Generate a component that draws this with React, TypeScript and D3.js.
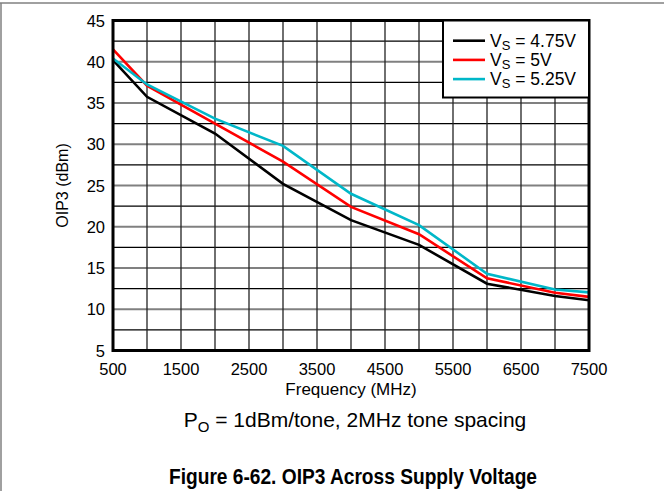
import React from "react";
import * as d3 from "d3";

const freqs = [500, 1000, 2000, 3000, 4000, 5000, 6000, 7000, 7500];
const vs475 = [40.2, 35.75, 31.3, 25.2, 20.8, 17.8, 13.1, 11.6, 11.1];
const vs500 = [41.5, 37.1, 32.5, 27.9, 22.4, 19.1, 13.75, 12.0, 11.5];
const vs525 = [40.4, 37.25, 33.1, 29.8, 24.0, 20.2, 14.3, 12.4, 12.05];
const xTicks = [500, 1500, 2500, 3500, 4500, 5500, 6500, 7500];
const yTicks = [5, 10, 15, 20, 25, 30, 35, 40, 45];
const seriesNames = ["4.75V", "5V", "5.25V"];
const seriesColors = ["#000000", "#ff0000", "#00b7c8"];

export default function App() {
  const W = 664, H = 491;
  const L = 113, R = 589, T = 20.5, B = 350.5;
  const x = d3.scaleLinear().domain([500, 7500]).range([L, R]);
  const y = d3.scaleLinear().domain([5, 45]).range([B, T]);
  const series = [vs475, vs500, vs525];
  const line = d3.line<number>().x((_, i) => x(freqs[i])).y((d) => y(d));
  const vGrid = d3.range(500, 7501, 500);
  const hGrid = d3.range(5, 45.1, 2.5);
  const font = "Liberation Sans, Arial, sans-serif";
  const legX = 443, legY = 20.5, legW = 146, legH = 77;
  return (
    <svg width={W} height={H} style={{ position: "absolute", left: 0, top: 0 }} fontFamily={font}>
      <rect x={0} y={0} width={W} height={H} fill="#fff" />
      <line x1={0} x2={W} y1={3} y2={3} stroke="#808080" strokeWidth={1.5} />
      <line x1={1} x2={1} y1={3} y2={H} stroke="#808080" strokeWidth={1.5} />
      {hGrid.map((v) => {
        const major = v % 5 === 0;
        return (
          <line key={"h" + v} x1={L} x2={R} y1={y(v)} y2={y(v)}
            stroke={major ? "#808080" : "#000"} strokeWidth={major ? 2 : 1.2} />
        );
      })}
      {vGrid.map((v) => (
        <line key={"v" + v} x1={x(v)} x2={x(v)} y1={T} y2={B} stroke="#222" strokeWidth={1.3} />
      ))}
      {series.map((s, i) => (
        <path key={i} d={line(s) || ""} fill="none" stroke={seriesColors[i]} strokeWidth={2.6} />
      ))}
      <rect x={L} y={T} width={R - L} height={B - T} fill="none" stroke="#000" strokeWidth={3} />
      <rect x={legX} y={legY} width={legW} height={legH} fill="#fff" stroke="#000" strokeWidth={2} />
      {seriesNames.map((n, i) => {
        const ly = 40.7 + i * 19.2;
        return (
          <g key={n}>
            <line x1={453} x2={485} y1={ly} y2={ly} stroke={seriesColors[i]} strokeWidth={2.6} />
            <text x={490} y={ly + 6} fontSize={17.5} fill="#000">
              V<tspan fontSize={13} dy={3}>S</tspan><tspan dy={-3}>{" = " + n}</tspan>
            </text>
          </g>
        );
      })}
      {yTicks.map((v) => (
        <text key={"yt" + v} x={105} y={y(v) + 6} fontSize={16.5} textAnchor="end" fill="#000">{v}</text>
      ))}
      {xTicks.map((v) => (
        <text key={"xt" + v} x={x(v)} y={375} fontSize={16.5} textAnchor="middle" fill="#000">{v}</text>
      ))}
      <text x={351} y={395} fontSize={17} textAnchor="middle" fill="#000">Frequency (MHz)</text>
      <text transform={`translate(68,${(T + B) / 2}) rotate(-90)`} fontSize={16} textAnchor="middle" fill="#000">OIP3 (dBm)</text>
      <text x={355} y={427} fontSize={21} textAnchor="middle" fill="#000">
        P<tspan fontSize={15} dy={5}>O</tspan><tspan dy={-5}> = 1dBm/tone, 2MHz tone spacing</tspan>
      </text>
      <text x={169} y={484} fontSize={22} fontWeight="bold" textLength={368} lengthAdjust="spacingAndGlyphs" fill="#000">Figure 6-62. OIP3 Across Supply Voltage</text>
    </svg>
  );
}
